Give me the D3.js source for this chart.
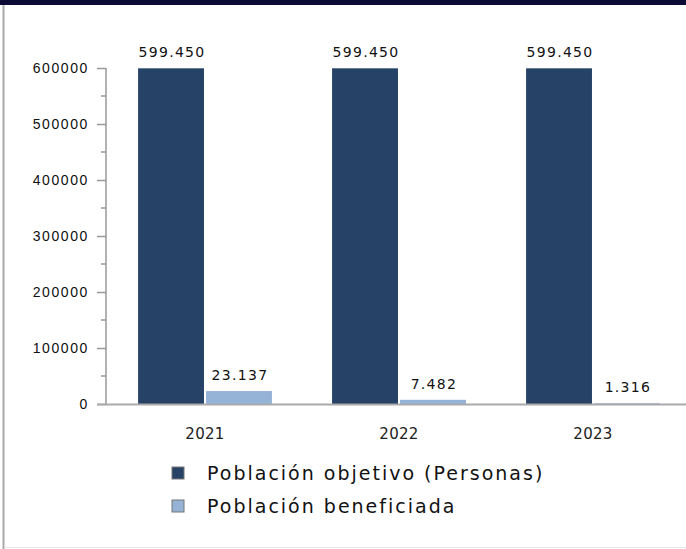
<!DOCTYPE html>
<html>
<head>
<meta charset="utf-8">
<script src="https://cdn.jsdelivr.net/npm/d3@7"></script>
<style>
  body { margin: 0; background: #fff; }
  svg { display: block; font-family: "DejaVu Sans", sans-serif; }
</style>
</head>
<body>
<div id="chart"></div>
<script>
var years = ["2021", "2022", "2023"];
var seriesNames = ["Población objetivo (Personas)", "Población beneficiada"];
var objetivo = [599450, 599450, 599450];
var beneficiada = [23137, 7482, 1316];
var yTicks = [0, 100000, 200000, 300000, 400000, 500000, 600000];
var colors = ["#264367", "#95b3d7"];

var width = 686, height = 549;

var svg = d3.select("#chart")
    .append("svg")
    .attr("width", width)
    .attr("height", height);

// frame
svg.append("rect").attr("x", 0).attr("y", 0).attr("width", width).attr("height", 5).style("fill", "#0b0b35");
svg.append("line").attr("x1", 3.5).attr("x2", 3.5).attr("y1", 5).attr("y2", height).style("stroke", "#aaa").style("stroke-width", 2);
svg.append("line").attr("x1", 4).attr("x2", width).attr("y1", 547.5).attr("y2", 547.5).style("stroke", "#e6e6e6");

var y = d3.scaleLinear().domain([0, 600000]).range([404, 68]);
var x0 = d3.scaleBand().domain(years).range([108, 690]).paddingInner(0.31).paddingOuter(0.155);
var x1 = d3.scaleBand().domain([0, 1]).range([0, x0.bandwidth()]).paddingInner(0.03);

var data = years.map(function(yr, i) {
    return [objetivo[i], beneficiada[i]];
});

// y axis
var yAxis = svg.append("g")
    .attr("transform", "translate(106,0)")
    .call(d3.axisLeft(y).tickValues(yTicks).tickFormat(d3.format("d")).tickSize(9).tickPadding(8));
yAxis.select(".domain").remove();
yAxis.selectAll("line").style("stroke", "#999").style("stroke-width", 1.5);
yAxis.selectAll("text").style("font-size", "14px").style("letter-spacing", "1.6px").style("fill", "#111");

// minor ticks
var minor = d3.range(50000, 600000, 100000);
svg.append("g").selectAll("line").data(minor).enter().append("line")
    .attr("x1", 101).attr("x2", 106)
    .attr("y1", function(d) { return y(d); })
    .attr("y2", function(d) { return y(d); })
    .style("stroke", "#999").style("stroke-width", 1.5);

svg.append("line").attr("x1", 106).attr("x2", 106).attr("y1", y(600000)).attr("y2", y(0))
    .style("stroke", "#999").style("stroke-width", 1.5);

// bars
var groups = svg.selectAll(".group")
    .data(data)
    .enter().append("g")
    .attr("class", "group")
    .attr("transform", function(d, i) { return "translate(" + x0(years[i]) + ",0)"; });

groups.selectAll("rect")
    .data(function(d) { return d; })
    .enter().append("rect")
    .attr("x", function(d, j) { return x1(j); })
    .attr("y", function(d) { return y(d); })
    .attr("width", x1.bandwidth())
    .attr("height", function(d) { return y(0) - y(d); })
    .style("fill", function(d, j) { return colors[j]; });

var fmt = d3.formatLocale({ decimal: ",", thousands: ".", grouping: [3], currency: ["", ""] }).format(",");

groups.selectAll(".val")
    .data(function(d) { return d; })
    .enter().append("text")
    .attr("class", "val")
    .attr("x", function(d, j) { return x1(j) + x1.bandwidth() / 2 + 1; })
    .attr("y", function(d) { return y(d) - 11; })
    .style("text-anchor", "middle")
    .style("font-size", "14px")
    .style("letter-spacing", "1.3px")
    .style("fill", "#111")
    .text(function(d) { return fmt(d); });

// x axis
svg.append("line").attr("x1", 97).attr("x2", width).attr("y1", 404.5).attr("y2", 404.5)
    .style("stroke", "#aaa").style("stroke-width", 2);

svg.selectAll(".year")
    .data(years)
    .enter().append("text")
    .attr("class", "year")
    .attr("x", function(d) { return x0(d) + x0.bandwidth() / 2; })
    .attr("y", 439)
    .style("text-anchor", "middle")
    .style("font-size", "15px")
    .style("letter-spacing", "0.3px")
    .style("fill", "#222")
    .text(function(d) { return d; });

// legend
var legend = svg.selectAll(".legend")
    .data(seriesNames)
    .enter().append("g")
    .attr("class", "legend")
    .attr("transform", function(d, i) { return "translate(172," + (467 + i * 33) + ")"; });

legend.append("rect")
    .attr("width", 12).attr("height", 12)
    .style("fill", function(d, i) { return colors[i]; })
    .style("stroke", "#777").style("stroke-width", 1);

legend.append("text")
    .attr("x", 35).attr("y", 13)
    .style("font-size", "19px")
    .style("letter-spacing", "2px")
    .style("fill", "#111")
    .text(function(d) { return d; });
</script>
</body>
</html>
